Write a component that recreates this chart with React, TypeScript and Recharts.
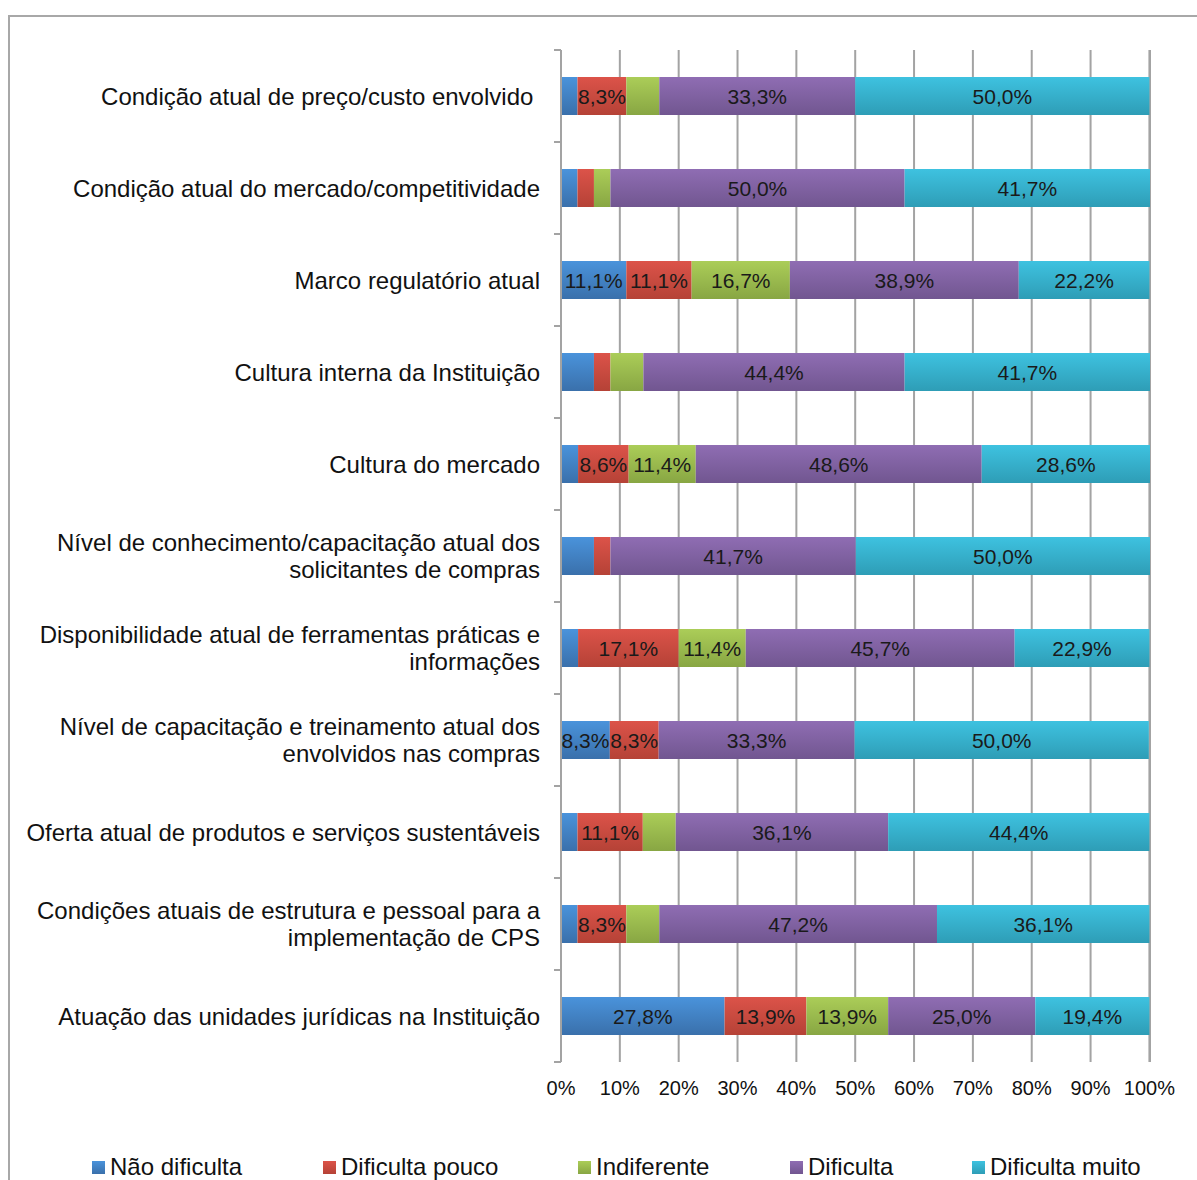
import React from 'react';
import { BarChart, Bar, XAxis, YAxis, CartesianGrid, LabelList } from 'recharts';

// categories (each entry split into display lines)
const categories: string[][] = [
  ['Condição atual de preço/custo envolvido '],
  ['Condição atual do mercado/competitividade'],
  ['Marco regulatório atual'],
  ['Cultura interna da Instituição'],
  ['Cultura do mercado'],
  ['Nível de conhecimento/capacitação atual dos', 'solicitantes de compras'],
  ['Disponibilidade atual de ferramentas práticas e', 'informações'],
  ['Nível de capacitação e treinamento atual dos', 'envolvidos nas compras'],
  ['Oferta atual de produtos e serviços sustentáveis'],
  ['Condições atuais de estrutura e pessoal para a', 'implementação de CPS'],
  ['Atuação das unidades jurídicas na Instituição'],
];

const naoDificulta = [2.8, 2.8, 11.1, 5.6, 2.9, 5.6, 2.9, 8.3, 2.8, 2.8, 27.8];
const dificultaPouco = [8.3, 2.8, 11.1, 2.8, 8.6, 2.8, 17.1, 8.3, 11.1, 8.3, 13.9];
const indiferente = [5.6, 2.8, 16.7, 5.6, 11.4, 0, 11.4, 0, 5.6, 5.6, 13.9];
const dificulta = [33.3, 50.0, 38.9, 44.4, 48.6, 41.7, 45.7, 33.3, 36.1, 47.2, 25.0];
const dificultaMuito = [50.0, 41.7, 22.2, 41.7, 28.6, 50.0, 22.9, 50.0, 44.4, 36.1, 19.4];

const xTicks = [0, 10, 20, 30, 40, 50, 60, 70, 80, 90, 100];

const series = [
  { key: 'nao', name: 'Não dificulta', top: '#4a93db', bottom: '#3a70ab' },
  { key: 'pouco', name: 'Dificulta pouco', top: '#dc5349', bottom: '#b54236' },
  { key: 'indif', name: 'Indiferente', top: '#abcd58', bottom: '#88a643' },
  { key: 'dif', name: 'Dificulta', top: '#8f6db3', bottom: '#715690' },
  { key: 'muito', name: 'Dificulta muito', top: '#3ec2e0', bottom: '#2e9db6' },
];

const legendX = [92, 323, 578, 790, 972];

const data = categories.map((c, i) => ({
  cat: c.join(' '),
  lines: c,
  nao: naoDificulta[i],
  pouco: dificultaPouco[i],
  indif: indiferente[i],
  dif: dificulta[i],
  muito: dificultaMuito[i],
}));

const FONT = 'Arial, "Liberation Sans", Helvetica, sans-serif';
const GRID = '#a3a3a3';
const BAND = 1012 / categories.length;

const fmt = (v: number) => `${v.toFixed(1).replace('.', ',')}%`;

const renderLabel = (props: any) => {
  const { x, y, width, height, value } = props;
  if (value == null || value < 8) return null;
  return (
    <text
      x={x + width / 2}
      y={y + height / 2 + 7.5}
      textAnchor="middle"
      fontSize={21}
      fontFamily={FONT}
      fill="#1a1a1a"
    >
      {fmt(value)}
    </text>
  );
};

const CatTick = (props: any) => {
  const { y, payload, index } = props;
  const lines: string[] = data[index]?.lines ?? [payload.value];
  const start = y - ((lines.length - 1) * 27) / 2;
  return (
    <g>
      <line x1={554} x2={561} y1={y - BAND / 2} y2={y - BAND / 2} stroke={GRID} strokeWidth={2} />
      {index === categories.length - 1 && (
        <line x1={554} x2={561} y1={y + BAND / 2} y2={y + BAND / 2} stroke={GRID} strokeWidth={2} />
      )}
      {lines.map((l, i) => (
        <text
          key={i}
          x={540}
          y={start + i * 27 + 8.5}
          textAnchor="end"
          fontSize={24}
          fontFamily={FONT}
          fill="#111"
          style={{ whiteSpace: 'pre' }}
        >
          {l}
        </text>
      ))}
    </g>
  );
};

const PctTick = (props: any) => {
  const { x, payload } = props;
  return (
    <text x={x} y={1095} textAnchor="middle" fontSize={20} fontFamily={FONT} fill="#111">
      {payload.value}%
    </text>
  );
};

export default function App() {
  return (
    <div
      style={{
        position: 'fixed',
        left: 0,
        top: 0,
        width: 1197,
        height: 1180,
        overflow: 'hidden',
        background: '#fff',
        fontFamily: FONT,
      }}
    >
      <div
        style={{
          position: 'absolute',
          left: 8,
          top: 15,
          width: 1300,
          height: 1300,
          borderTop: '2px solid #a8a8a8',
          borderLeft: '2px solid #a8a8a8',
        }}
      />
      <div style={{ position: 'absolute', left: 0, top: 0 }}>
        <BarChart
          width={1197}
          height={1180}
          data={data}
          layout="vertical"
          barSize={38}
          margin={{ top: 50, right: 47, bottom: 78, left: 0 }}
        >
          <defs>
            {series.map(s => (
              <linearGradient key={s.key} id={`g-${s.key}`} x1="0" y1="0" x2="0" y2="1">
                <stop offset="0%" stopColor={s.top} />
                <stop offset="100%" stopColor={s.bottom} />
              </linearGradient>
            ))}
          </defs>
          <CartesianGrid horizontal={false} stroke={GRID} strokeWidth={2} />
          <XAxis
            type="number"
            domain={[0, 100]}
            ticks={xTicks}
            axisLine={false}
            tickLine={false}
            height={40}
            tick={<PctTick />}
            interval={0}
          />
          <YAxis
            type="category"
            dataKey="cat"
            width={561}
            axisLine={{ stroke: GRID, strokeWidth: 2 }}
            tickLine={false}
            tick={<CatTick />}
            interval={0}
          />
          {series.map(s => (
            <Bar
              key={s.key}
              dataKey={s.key}
              name={s.name}
              stackId="a"
              fill={`url(#g-${s.key})`}
              isAnimationActive={false}
            >
              <LabelList dataKey={s.key} content={renderLabel} />
            </Bar>
          ))}
        </BarChart>
      </div>
      {series.map((s, i) => (
        <div
          key={s.key}
          style={{
            position: 'absolute',
            left: legendX[i],
            top: 1153,
            display: 'flex',
            alignItems: 'center',
            fontSize: 24,
            color: '#111',
            whiteSpace: 'nowrap',
          }}
        >
          <span
            style={{
              display: 'inline-block',
              width: 13,
              height: 13,
              marginRight: 5,
              background: `linear-gradient(${s.top}, ${s.bottom})`,
            }}
          />
          {s.name}
        </div>
      ))}
    </div>
  );
}
